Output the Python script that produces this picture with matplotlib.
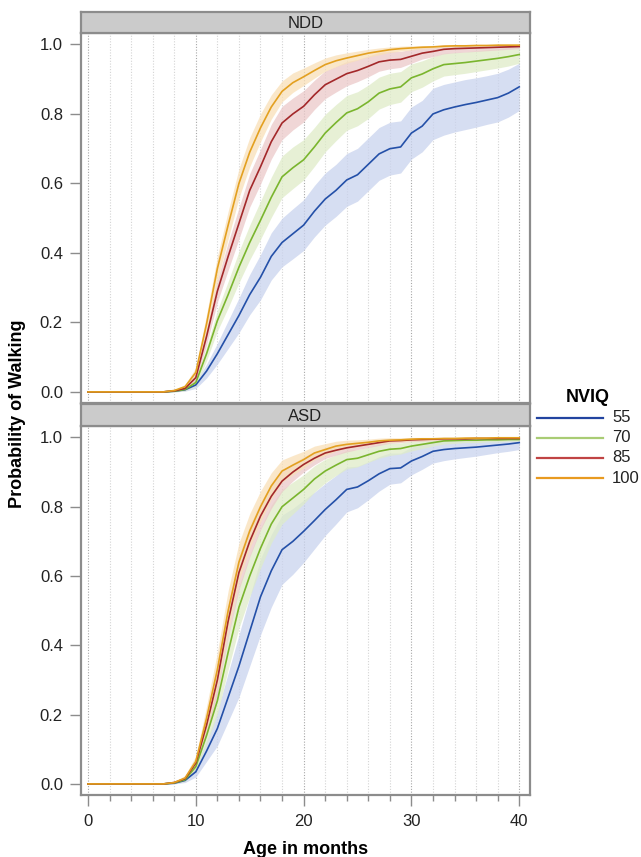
import matplotlib
matplotlib.use("Agg")
import matplotlib.pyplot as plt
import numpy as np
from matplotlib.lines import Line2D

plt.rcParams['font.family'] = ['Liberation Sans', 'DejaVu Sans']

months = list(range(0, 41))
groups = ["NDD", "ASD"]
nviq_levels = ["55", "70", "85", "100"]

Z8 = [0, 0, 0, 0, 0, 0, 0, 0]

NDD_55 = Z8 + [0.002, 0.006, 0.02, 0.06, 0.11, 0.165, 0.22, 0.28, 0.33, 0.39, 0.43, 0.455, 0.48, 0.52,
               0.555, 0.58, 0.61, 0.625, 0.655, 0.685, 0.70, 0.705, 0.745, 0.765, 0.80, 0.812, 0.82,
               0.827, 0.833, 0.84, 0.847, 0.86, 0.878]
NDD_70 = Z8 + [0.002, 0.007, 0.027, 0.11, 0.205, 0.28, 0.359, 0.43, 0.494, 0.56, 0.619, 0.645, 0.668,
               0.705, 0.745, 0.775, 0.803, 0.815, 0.835, 0.86, 0.872, 0.878, 0.904, 0.915, 0.93, 0.942,
               0.945, 0.948, 0.952, 0.956, 0.96, 0.965, 0.971]
NDD_85 = Z8 + [0.003, 0.01, 0.041, 0.16, 0.29, 0.39, 0.485, 0.58, 0.648, 0.72, 0.774, 0.80, 0.822,
               0.855, 0.884, 0.90, 0.916, 0.925, 0.937, 0.95, 0.955, 0.957, 0.966, 0.975, 0.98, 0.986,
               0.988, 0.989, 0.99, 0.991, 0.992, 0.993, 0.994]
NDD_100 = Z8 + [0.004, 0.015, 0.056, 0.196, 0.355, 0.48, 0.60, 0.69, 0.76, 0.82, 0.865, 0.89, 0.907,
                0.925, 0.942, 0.953, 0.961, 0.968, 0.975, 0.98, 0.985, 0.988, 0.99, 0.992, 0.993, 0.995,
                0.996, 0.996, 0.997, 0.997, 0.998, 0.998, 0.998]

ASD_55 = Z8 + [0.002, 0.01, 0.035, 0.095, 0.16, 0.25, 0.34, 0.44, 0.54, 0.615, 0.676, 0.70, 0.729,
               0.76, 0.792, 0.82, 0.85, 0.857, 0.875, 0.895, 0.91, 0.912, 0.932, 0.945, 0.96, 0.965,
               0.968, 0.97, 0.972, 0.975, 0.978, 0.981, 0.985]
ASD_70 = Z8 + [0.003, 0.012, 0.05, 0.14, 0.24, 0.38, 0.51, 0.60, 0.68, 0.75, 0.80, 0.825, 0.85,
               0.88, 0.903, 0.92, 0.936, 0.94, 0.95, 0.96, 0.966, 0.968, 0.975, 0.98, 0.985, 0.99,
               0.991, 0.992, 0.992, 0.993, 0.993, 0.994, 0.994]
ASD_85 = Z8 + [0.004, 0.015, 0.06, 0.17, 0.30, 0.47, 0.61, 0.70, 0.773, 0.83, 0.874, 0.90, 0.922,
               0.94, 0.955, 0.963, 0.97, 0.975, 0.98, 0.985, 0.99, 0.991, 0.993, 0.994, 0.995, 0.996,
               0.996, 0.996, 0.997, 0.997, 0.997, 0.997, 0.997]
ASD_100 = Z8 + [0.004, 0.017, 0.065, 0.19, 0.33, 0.50, 0.64, 0.73, 0.80, 0.86, 0.903, 0.92, 0.936,
                0.955, 0.965, 0.975, 0.98, 0.983, 0.986, 0.99, 0.992, 0.993, 0.995, 0.996, 0.996, 0.997,
                0.997, 0.998, 0.998, 0.998, 0.999, 0.999, 0.999]

# confidence band half-widths
NDD_55_hw = Z8 + [0.002, 0.004, 0.01, 0.02, 0.03, 0.04, 0.05, 0.058, 0.065, 0.068, 0.07, 0.072, 0.073,
                  0.074, 0.075, 0.075, 0.076, 0.076, 0.076, 0.076, 0.076, 0.075, 0.075, 0.074, 0.074,
                  0.073, 0.072, 0.072, 0.071, 0.07, 0.07, 0.069, 0.068]
NDD_70_hw = Z8 + [0.002, 0.004, 0.01, 0.02, 0.03, 0.038, 0.045, 0.05, 0.055, 0.058, 0.06, 0.06, 0.058,
                  0.056, 0.054, 0.052, 0.05, 0.049, 0.048, 0.046, 0.045, 0.044, 0.04, 0.038, 0.035,
                  0.033, 0.032, 0.031, 0.03, 0.029, 0.028, 0.027, 0.025]
NDD_85_hw = Z8 + [0.002, 0.005, 0.012, 0.025, 0.032, 0.04, 0.045, 0.048, 0.05, 0.05, 0.048, 0.046, 0.045,
                  0.042, 0.04, 0.037, 0.035, 0.032, 0.03, 0.027, 0.025, 0.023, 0.02, 0.017, 0.015,
                  0.013, 0.012, 0.011, 0.01, 0.009, 0.008, 0.007, 0.006]
NDD_100_hw = Z8 + [0.002, 0.006, 0.014, 0.028, 0.035, 0.04, 0.042, 0.042, 0.04, 0.035, 0.03, 0.028, 0.025,
                   0.022, 0.019, 0.017, 0.015, 0.013, 0.011, 0.01, 0.008, 0.007, 0.006, 0.005, 0.004,
                   0.003, 0.003, 0.003, 0.002, 0.002, 0.002, 0.002, 0.002]
ASD_55_hw = Z8 + [0.002, 0.006, 0.015, 0.03, 0.05, 0.07, 0.09, 0.10, 0.11, 0.105, 0.10, 0.095, 0.09,
                  0.082, 0.075, 0.07, 0.065, 0.06, 0.055, 0.05, 0.045, 0.043, 0.04, 0.037, 0.034,
                  0.032, 0.03, 0.028, 0.026, 0.024, 0.022, 0.021, 0.02]
ASD_70_hw = Z8 + [0.002, 0.005, 0.012, 0.025, 0.04, 0.05, 0.06, 0.06, 0.058, 0.055, 0.05, 0.046, 0.042,
                  0.038, 0.034, 0.03, 0.027, 0.025, 0.022, 0.02, 0.018, 0.016, 0.014, 0.012, 0.01,
                  0.009, 0.008, 0.007, 0.007, 0.006, 0.006, 0.005, 0.005]
ASD_85_hw = Z8 + [0.002, 0.005, 0.013, 0.028, 0.04, 0.048, 0.05, 0.045, 0.04, 0.035, 0.03, 0.026, 0.022,
                  0.019, 0.016, 0.014, 0.012, 0.01, 0.009, 0.008, 0.007, 0.006, 0.005, 0.005, 0.004,
                  0.004, 0.004, 0.003, 0.003, 0.003, 0.003, 0.003, 0.003]
ASD_100_hw = Z8 + [0.003, 0.007, 0.016, 0.035, 0.05, 0.058, 0.055, 0.05, 0.045, 0.038, 0.032, 0.028, 0.024,
                   0.02, 0.017, 0.014, 0.012, 0.01, 0.009, 0.008, 0.007, 0.006, 0.005, 0.005, 0.004,
                   0.004, 0.003, 0.003, 0.003, 0.002, 0.002, 0.002, 0.002]

data = {
    "NDD": [(NDD_55, NDD_55_hw), (NDD_70, NDD_70_hw), (NDD_85, NDD_85_hw), (NDD_100, NDD_100_hw)],
    "ASD": [(ASD_55, ASD_55_hw), (ASD_70, ASD_70_hw), (ASD_85, ASD_85_hw), (ASD_100, ASD_100_hw)],
}

line_colors = ["#2450a8", "#7ab52e", "#a3282a", "#e3a020"]
band_colors = ["#c9d3ee", "#dfecc8", "#ebc9c9", "#f9e0b8"]
legend_colors = ["#2244a0", "#a9cc74", "#c04444", "#e89a20"]

W, H = 641, 857
fig = plt.figure(figsize=(W / 100, H / 100), dpi=100)

def fx(px):
    return px / W

def fy(py):
    return 1 - py / H

frame_col = "#8c8c8c"
left, right = 81, 530
panels = [(33, 403, 12), (426, 795, 404)]  # (top, bottom, strip_top)

for gi, (g, (ptop, pbot, stop)) in enumerate(zip(groups, panels)):
    ax = fig.add_axes([fx(left), fy(pbot), fx(right - left), (pbot - ptop) / H])
    sax = fig.add_axes([fx(left), fy(ptop), fx(right - left), (ptop - stop) / H])
    sax.set_facecolor("#cbcbcb")
    sax.set_xticks([]); sax.set_yticks([])
    for s in sax.spines.values():
        s.set_color(frame_col); s.set_linewidth(1.6)
    sax.text(0.5, 0.45, g, ha="center", va="center", fontsize=12, color="#222222",
             transform=sax.transAxes)

    x = np.array(months)
    for k in range(4):
        y, hw = data[g][k]
        y = np.array(y); hw = np.array(hw)
        lo = np.clip(y - hw, 0, 1)
        hi = np.clip(y + hw, 0, 1)
        ax.fill_between(x, lo, hi, color=band_colors[k], alpha=0.75, lw=0, zorder=2 + k)
    for k in range(4):
        y, hw = data[g][k]
        ax.plot(x, y, color=line_colors[k], lw=1.2, zorder=10 + k)

    # grid
    for gx in range(0, 41, 2):
        major = gx % 10 == 0
        ax.axvline(gx, color="#a8a8a8" if major else "#d4d4d4", lw=0.8,
                   ls=(0, (1, 1.5)), zorder=1)

    ax.set_xlim(-0.65, 41.0)
    ax.set_ylim(-0.032, 1.033)
    ax.set_yticks([0, 0.2, 0.4, 0.6, 0.8, 1.0])
    ax.set_yticklabels(["0.0", "0.2", "0.4", "0.6", "0.8", "1.0"])
    ax.tick_params(axis="y", length=8, width=1.0, color=frame_col, labelsize=12,
                   labelcolor="#222222", pad=5)
    for s in ax.spines.values():
        s.set_color(frame_col); s.set_linewidth(1.6)
    if gi == 1:
        ax.set_xticks([0, 10, 20, 30, 40])
        ax.set_xticks(list(range(0, 41, 2)), minor=True)
        ax.tick_params(axis="x", which="major", length=8, width=1.0, color=frame_col,
                       labelsize=12, labelcolor="#222222", pad=6)
        ax.tick_params(axis="x", which="minor", length=4, width=1.0, color=frame_col)
        ax.set_xlabel("Age in months", fontsize=13, fontweight="bold", labelpad=8)
    else:
        ax.set_xticks([])

fig.text(fx(18), fy(414), "Probability of Walking", rotation=90, ha="center", va="center",
         fontsize=13, fontweight="bold")

# legend
fig.text(fx(588), fy(397), "NVIQ", ha="center", va="center", fontsize=13, fontweight="bold")
for k, lab in enumerate(nviq_levels):
    yy = 418 + 20 * k
    fig.add_artist(Line2D([fx(537), fx(603)], [fy(yy), fy(yy)], color=legend_colors[k], lw=1.6))
    fig.text(fx(612), fy(yy), lab, ha="left", va="center", fontsize=12, color="#222222")

fig.savefig("out.png", dpi=100)
